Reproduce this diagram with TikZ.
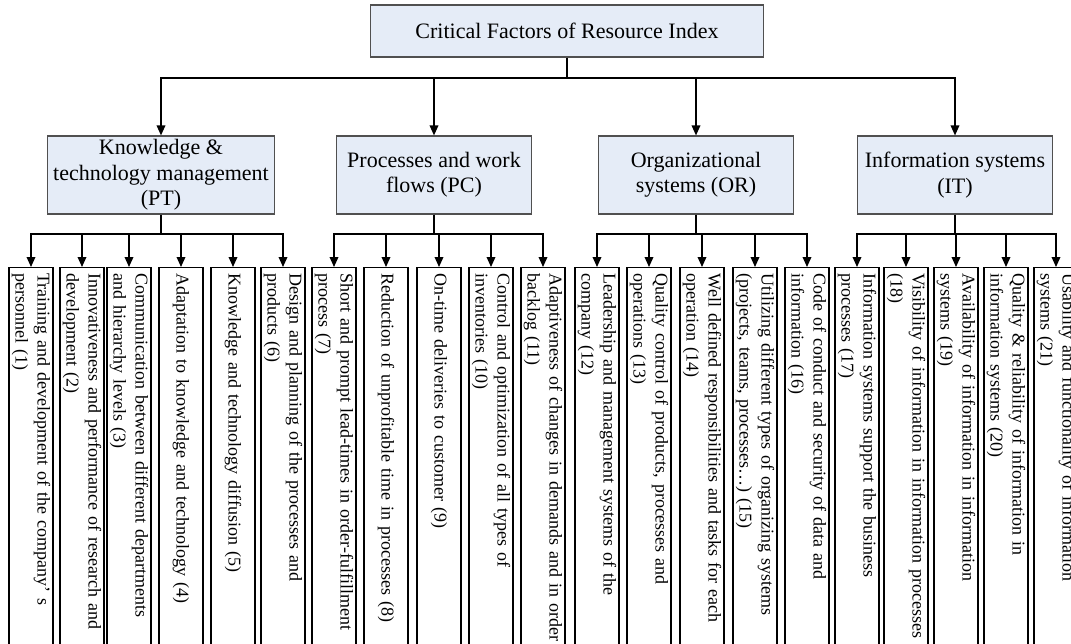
\documentclass[tikz,border=0pt]{standalone}
\usepackage{fontspec}
\setmainfont{Liberation Serif}
\usetikzlibrary{arrows.meta}
\definecolor{boxblue}{RGB}{229,236,247}
\definecolor{boxline}{RGB}{80,80,80}
\begin{document}
\begin{tikzpicture}[x=0.75pt,y=-0.75pt,
	head/.style={draw=boxline,line width=0.9pt,fill=boxblue,align=center,inner sep=1pt,font=\fontsize{16.5}{19}\selectfont},
	factor/.style={draw=black,line width=0.8pt,rotate=-90,anchor=west,minimum height=33pt,text width=291pt,inner xsep=4.5pt,inner ysep=0.5pt,align=left,font=\fontsize{13.5}{16.5}\selectfont},
	link/.style={line width=1pt},
	arrow/.style={link,-{Triangle[length=7.5pt,width=6.5pt]}}]
	\clip (0,0) rectangle (1071,643);
	\node[head,minimum width=295pt,minimum height=39pt] (cfri) at (567,31) {Critical Factors of Resource Index};
	\node[head,minimum width=170pt,minimum height=58.5pt] (pt) at (161,175) {Knowledge \&\\technology management\\(PT)};
	\node[head,minimum width=146pt,minimum height=58.5pt] (pc) at (434,175) {Processes and work\\flows (PC)};
	\node[head,minimum width=146pt,minimum height=58.5pt] (or) at (696,175) {Organizational\\systems (OR)};
	\node[head,minimum width=146pt,minimum height=58.5pt] (it) at (955,175) {Information systems\\(IT)};
	\foreach \n/\x/\t in {
		1/31/{Training and development of the company’ s\\personnel (1)},
		2/82/{Innovativeness and performance of research and\\development (2)},
		3/129/{Communication between different departments\\and hierarchy levels (3)},
		4/181/{Adaptation to knowledge and technology (4)},
		5/233/{Knowledge and technology diffusion (5)},
		6/283/{Design and planning of the processes and\\products (6)},
		7/334/{Short and prompt lead-times in order-fulfillment\\process (7)},
		8/386/{Reduction of unprofitable time in processes (8)},
		9/439/{On-time deliveries to customer (9)},
		10/491/{Control and optimization of all types of\\inventories (10)},
		11/543/{Adaptiveness of changes in demands and in order\\backlog (11)},
		12/597/{Leadership and management systems of the\\company (12)},
		13/649/{Quality control of products, processes and\\operations (13)},
		14/702/{Well defined responsibilities and tasks for each\\operation (14)},
		15/755/{Utilizing different types of organizing systems\\(projects, teams, processes…) (15)},
		16/807/{Code of conduct and security of data and\\information (16)},
		17/857/{Information systems support the business\\processes (17)},
		18/906/{Visibility of information in information processes\\(18)},
		19/956/{Availability of information in information\\systems (19)},
		20/1006/{Quality \& reliability of information in\\information systems (20)},
		21/1056/{Usability and functionality of information\\systems (21)}}
		\node[factor] (f\n) at (\x,267) {\t};
	\coordinate (top bus) at (cfri.south |- 0,78);
	\draw[link] (cfri.south) -- (top bus);
	\foreach \g in {pt,pc,or,it}
		\draw[arrow] (top bus) -| (\g.north);
	\foreach \g/\a/\b in {pt/1/6,pc/7/11,or/12/16,it/17/21} {
		\coordinate (\g bus) at (\g.south |- 0,234);
		\draw[link] (\g.south) -- (\g bus);
		\foreach \i in {\a,...,\b}
			\draw[arrow] (\g bus) -| (f\i.west);
	}
\end{tikzpicture}
\end{document}
